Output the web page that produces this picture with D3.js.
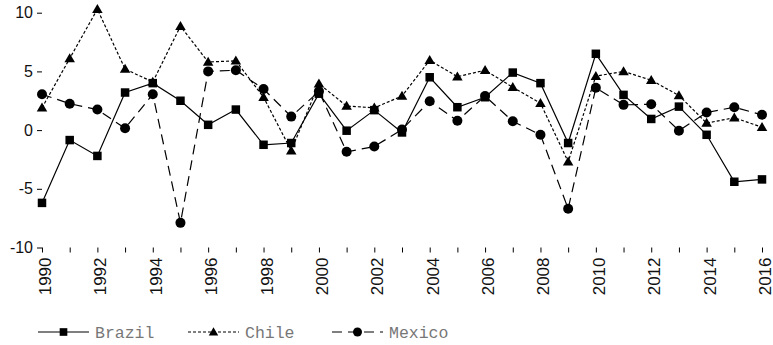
<!DOCTYPE html>
<html>
<head>
<meta charset="utf-8">
<script src="https://cdn.jsdelivr.net/npm/d3@7/dist/d3.min.js"></script>
<style>
  html, body { margin: 0; padding: 0; background: #fff; }
  svg { display: block; }
</style>
</head>
<body>
<div id="chart"></div>
<script>
const years = d3.range(1990, 2017);
const brazil = [-6.2, -0.85, -2.2, 3.2, 4.0, 2.5, 0.45, 1.75, -1.25, -1.1, 3.1, -0.05, 1.7, -0.2, 4.5, 1.95, 2.8, 4.9, 4.0, -1.1, 6.5, 3.0, 0.95, 2.0, -0.4, -4.4, -4.2];
const chile  = [1.9, 6.1, 10.3, 5.2, 4.1, 8.85, 5.8, 5.9, 2.8, -1.75, 3.95, 2.05, 1.9, 2.9, 5.95, 4.55, 5.1, 3.65, 2.3, -2.7, 4.6, 5.0, 4.25, 2.95, 0.6, 1.05, 0.25];
const mexico = [3.05, 2.25, 1.75, 0.15, 3.05, -7.9, 5.0, 5.1, 3.5, 1.15, 3.3, -1.85, -1.4, 0.05, 2.45, 0.8, 2.9, 0.75, -0.4, -6.7, 3.6, 2.15, 2.2, -0.05, 1.5, 1.95, 1.3];
const seriesNames = ["Brazil", "Chile", "Mexico"];
const yTicks = [-10, -5, 0, 5, 10];
const xTicks = d3.range(1990, 2017);
const xLabels = d3.range(1990, 2017, 2);

const W = 773, H = 345;
const svg = d3.select("#chart").append("svg").attr("width", W).attr("height", H);

const x = d3.scaleLinear().domain([1990, 2016]).range([42, 762]);
const y = d3.scaleLinear().domain([-10, 10]).range([247.5, 12.7]);

const tickFont = "'Liberation Sans', Arial, Helvetica, sans-serif";

// Y axis (ticks only)
const yAxis = d3.axisLeft(y).tickValues(yTicks).tickSize(5).tickPadding(4).tickFormat(d => String(d));
const gy = svg.append("g").attr("transform", "translate(42,0)").call(yAxis);
gy.select(".domain").remove();
gy.selectAll("line").attr("stroke", "#000").attr("stroke-width", 1);
gy.selectAll("text").attr("font-family", tickFont).attr("font-size", 16).attr("fill", "#111");

// X axis (ticks only)
const xAxis = d3.axisBottom(x).tickValues(xTicks).tickSize(5).tickFormat(d => xLabels.includes(d) ? String(d) : "");
const gx = svg.append("g").attr("transform", "translate(0,247.5)").call(xAxis);
gx.select(".domain").remove();
gx.selectAll("line").attr("stroke", "#000").attr("stroke-width", 1);
gx.selectAll("text")
  .attr("font-family", tickFont)
  .attr("font-size", 17)
  .attr("fill", "#111")
  .attr("text-anchor", "end")
  .attr("transform", "rotate(-90)")
  .attr("x", -10)
  .attr("y", 0)
  .attr("dy", "0.5em");

const data = [
  { name: seriesNames[0], values: brazil, dash: null, marker: "square" },
  { name: seriesNames[1], values: chile, dash: "3,2", marker: "triangle" },
  { name: seriesNames[2], values: mexico, dash: "10,6", marker: "circle" }
];

const line = d3.line().x((d, i) => x(years[i])).y(d => y(d));

function drawMarker(g, type, cx, cy, scale) {
  const s = scale || 1;
  if (type === "square") {
    const a = 8.5 * s;
    g.append("rect").attr("x", cx - a / 2).attr("y", cy - a / 2).attr("width", a).attr("height", a).attr("fill", "#000");
  } else if (type === "triangle") {
    const w = 10.5 * s, h = 9 * s;
    g.append("path").attr("d", `M${cx},${cy - h * 0.58}L${cx + w / 2},${cy + h * 0.42}L${cx - w / 2},${cy + h * 0.42}Z`).attr("fill", "#000");
  } else {
    g.append("circle").attr("cx", cx).attr("cy", cy).attr("r", 5 * s).attr("fill", "#000");
  }
}

data.forEach(s => {
  svg.append("path")
    .attr("d", line(s.values))
    .attr("fill", "none")
    .attr("stroke", "#000")
    .attr("stroke-width", 1.2)
    .attr("stroke-dasharray", s.dash);
  const gm = svg.append("g");
  s.values.forEach((v, i) => drawMarker(gm, s.marker, x(years[i]), y(v)));
});

// Legend
const legendX = [38, 188, 332];
const legendY = 332;
data.forEach((s, i) => {
  const g = svg.append("g");
  const lx = legendX[i];
  g.append("line").attr("x1", lx).attr("x2", lx + 51).attr("y1", legendY).attr("y2", legendY)
    .attr("stroke", "#000").attr("stroke-width", 1.2).attr("stroke-dasharray", s.dash);
  drawMarker(g, s.marker, lx + 25.5, legendY, 0.9);
  g.append("text").attr("x", lx + 57).attr("y", legendY).attr("dy", "0.36em")
    .attr("font-family", "'Liberation Mono', 'DejaVu Sans Mono', monospace")
    .attr("font-size", 16.5).attr("fill", "#777").text(s.name);
});
</script>
</body>
</html>
